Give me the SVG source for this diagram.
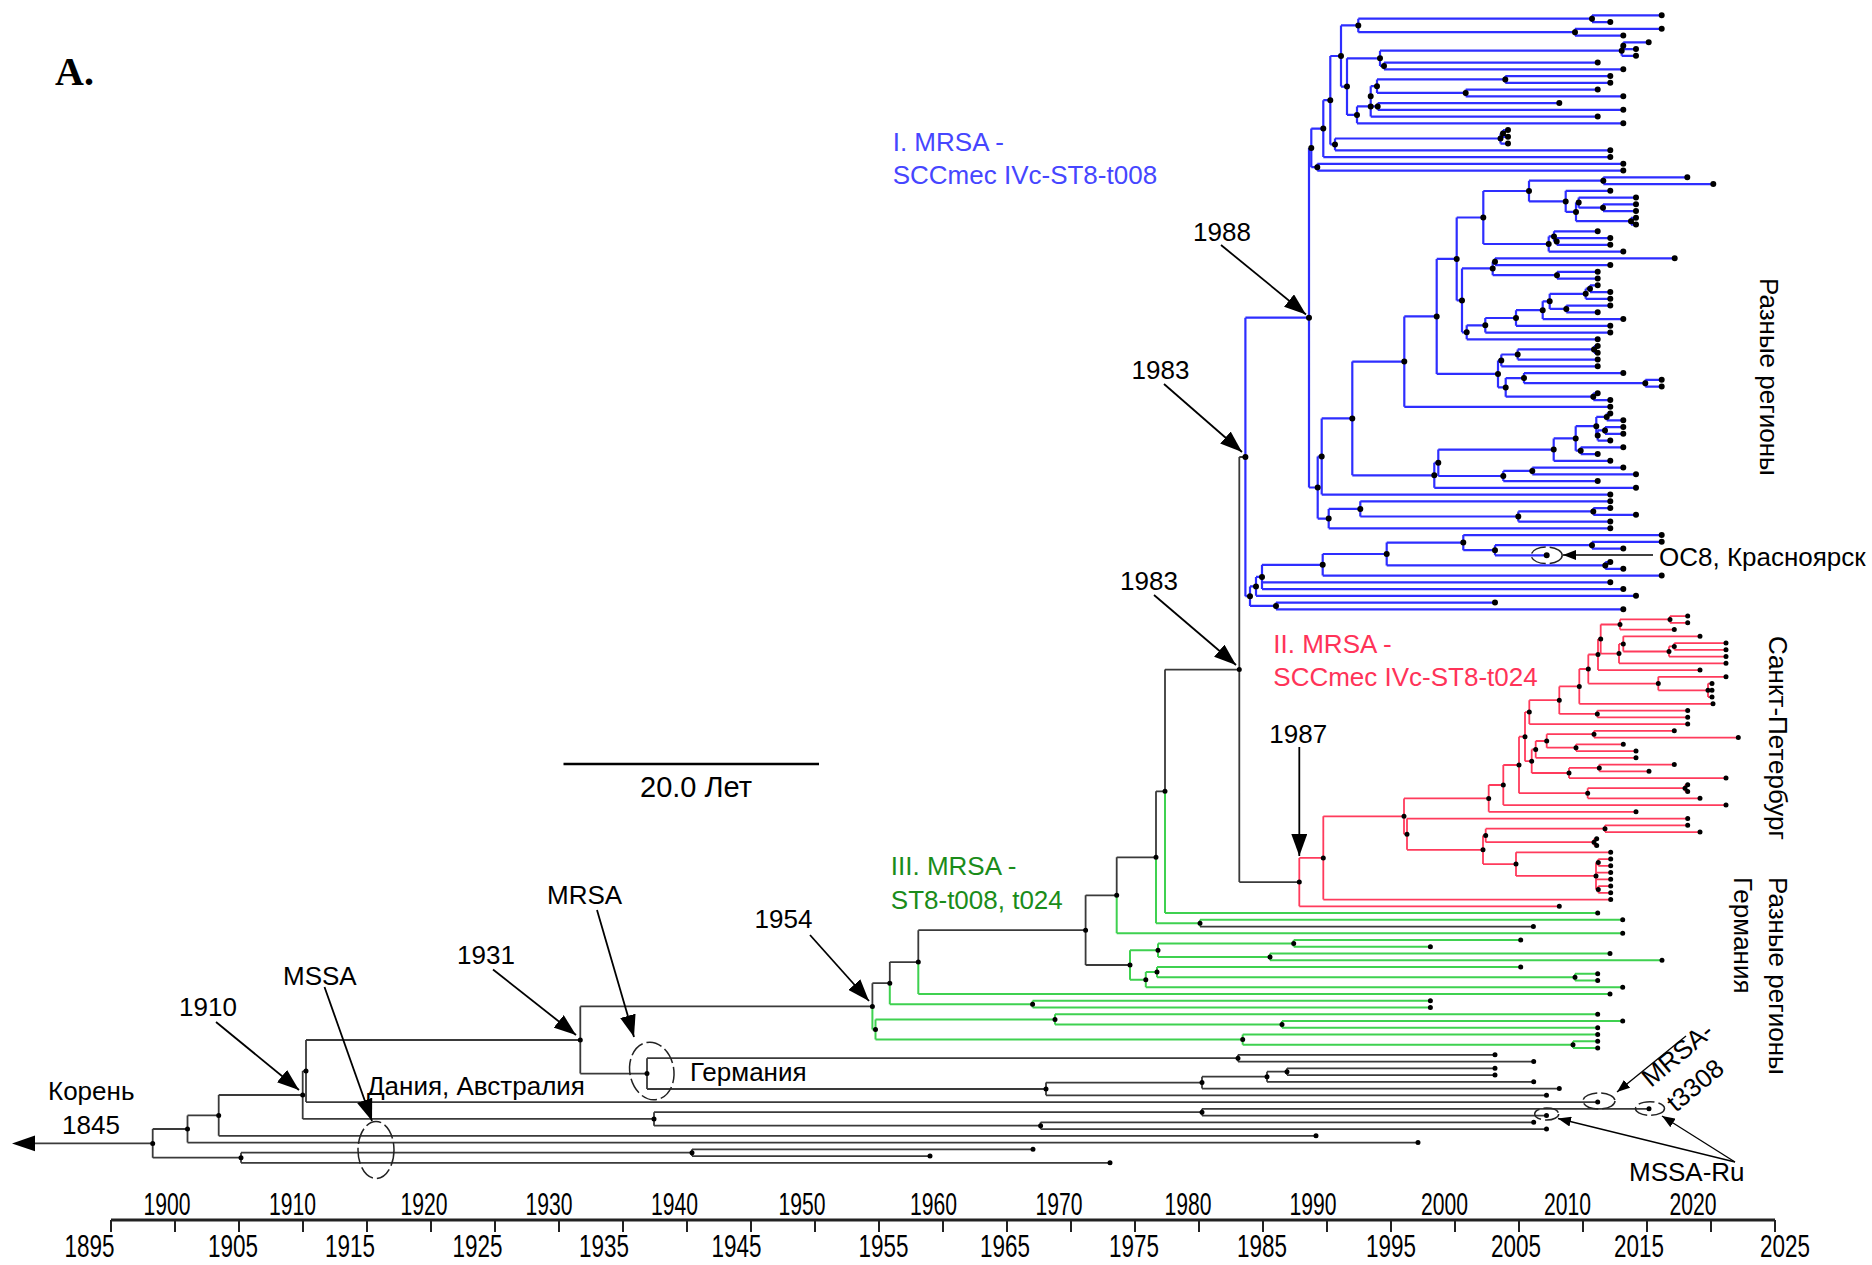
<svg xmlns="http://www.w3.org/2000/svg" width="1872" height="1265" viewBox="0 0 1872 1265">
<defs>
<style>
.b{stroke:#2e2eff;stroke-width:2.2;fill:none}
.r{stroke:#ff3b5c;stroke-width:1.8;fill:none}
.g{stroke:#3fd150;stroke-width:2;fill:none}
.k{stroke:#3a3a3a;stroke-width:1.8;fill:none}
.d{stroke:#000;stroke-linecap:round;fill:none}
.t{font-family:"Liberation Sans",Arial,sans-serif;font-size:26px;fill:#000}
.ax{font-family:"Liberation Sans",Arial,sans-serif;font-size:31px;fill:#000;text-anchor:middle}
.ar{stroke:#000;stroke-width:1.8;fill:none}
.as{stroke:#000;stroke-width:1.3;fill:none}
.el{stroke:#222;stroke-width:1.5;fill:none;stroke-dasharray:16 4}
</style>
<marker id="ab" markerUnits="userSpaceOnUse" markerWidth="24" markerHeight="16" refX="22" refY="8" orient="auto"><path d="M0 0L22 8L0 16z" fill="#000"/></marker>
<marker id="as" markerUnits="userSpaceOnUse" markerWidth="14" markerHeight="10" refX="13" refY="5" orient="auto"><path d="M0 0L13 5L0 10z" fill="#000"/></marker>
</defs>
<rect width="1872" height="1265" fill="#fff"/>
<g id="connectors">
<g id="blue-clade">
<path class="b" d="M1592 15.3H1661.7M1592 22.1H1610.3M1358.3 18.7H1592M1575 28.8H1661.7M1575 35.6H1623.3M1358.3 32.2H1575M1341 25.4H1358.3M1623.3 42.3H1648.7M1623.3 49.1H1636M1621.7 45.7H1623.3M1621.7 55.8H1636M1380 50.7H1621.7M1384 62.6H1597.7M1384 69.3H1623.3M1380 65.9H1384M1347 58.3H1380M1505.3 76.1H1610.3M1505.3 82.8H1610.3M1377 79.4H1505.3M1465.7 89.6H1597.7M1465.7 96.3H1623.3M1377 92.9H1465.7M1370.7 86.2H1377M1377.7 103.1H1559.3M1377.7 109.8H1623.3M1370.7 106.4H1377.7M1370.7 116.6H1597.7M1357 106.4H1370.7M1357 123.3H1623.3M1347 114.9H1357M1341 86.6H1347M1330.3 56H1341M1503 130.1H1508M1503 136.8H1508M1500.5 133.4H1503M1500.5 143.6H1508M1335 138.5H1500.5M1335 150.3H1610.3M1330.3 144.4H1335M1323.3 100.2H1330.3M1323.3 157.1H1610.3M1311.3 128.6H1323.3M1317.3 163.8H1623.3M1317.3 170.6H1623.3M1311.3 167.2H1317.3M1309 147.9H1311.3
M1592 15.3V22.1M1575 28.8V35.6M1358.3 18.7V32.2M1623.3 42.3V49.1M1621.7 45.7V55.8M1384 62.6V69.3M1380 50.7V65.9M1505.3 76.1V82.8M1465.7 89.6V96.3M1377 79.4V92.9M1377.7 103.1V109.8M1370.7 86.2V116.6M1357 106.4V123.3M1347 58.3V114.9M1341 25.4V86.6M1503 130.1V136.8M1500.5 133.4V143.6M1335 138.5V150.3M1330.3 56V144.4M1323.3 100.2V157.1M1317.3 163.8V170.6M1311.3 128.6V167.2
M1603.3 177.3H1687.3M1603.3 184.1H1713.3M1529 180.7H1603.3M1565.7 190.8H1610.3M1578.7 197.6H1636M1603 204.3H1636M1603 211.1H1636M1578.7 207.7H1603M1576 202.6H1578.7M1631 217.8H1636M1631 224.6H1636M1576 221.2H1631M1565.7 211.9H1576M1529 201.4H1565.7M1483.3 191H1529M1554 231.3H1597.7M1556.7 238.1H1610.3M1556.7 244.8H1610.3M1554 241.4H1556.7M1548.7 236.4H1554M1548.7 251.6H1623.3M1483.3 244H1548.7M1456.7 217.5H1483.3M1495 258.3H1674.7M1495 265.1H1610.3M1492.7 261.7H1495M1557 271.8H1597.7M1557 278.6H1597.7M1492.7 275.2H1557M1462 268.4H1492.7M1590 285.3H1597.7M1590 292.1H1610.3M1585.7 288.7H1590M1585.7 298.8H1610.3M1549.7 293.8H1585.7M1566.3 305.6H1610.3M1566.3 312.3H1597.7M1549.7 308.9H1566.3M1542.7 301.3H1549.7M1542.7 319.1H1623.3M1516 310.2H1542.7M1516 325.8H1610.3M1485.3 318H1516M1485.3 332.6H1610.3M1466.7 325.3H1485.3M1466.7 339.3H1597.7M1462 332.3H1466.7M1456.7 300.4H1462M1436.7 258.9H1456.7M1594 346.1H1597.7M1594 352.8H1597.7M1517.7 349.4H1594M1517.7 359.6H1597.7M1501.3 354.5H1517.7M1501.3 366.3H1597.7M1498 360.4H1501.3M1524 373.1H1623.3M1645.3 379.8H1661.7M1645.3 386.6H1661.7M1524 383.2H1645.3M1505.7 378.1H1524M1593.3 393.3H1597.7M1593.3 400.1H1610.3M1505.7 396.7H1593.3M1498 387.4H1505.7M1436.7 373.9H1498M1404.3 316.4H1436.7M1404.3 406.8H1610.3M1352.3 361.6H1404.3M1606.7 413.6H1610.3M1606.7 420.3H1623.3M1596.3 416.9H1606.7M1605 427.1H1623.3M1605 433.8H1623.3M1597.7 430.4H1605M1597.7 440.6H1610.3M1596.3 435.5H1597.7M1575.7 426.2H1596.3M1580.7 447.3H1623.3M1580.7 454.1H1597.7M1575.7 450.7H1580.7M1553.7 438.4H1575.7M1553.7 460.8H1610.3M1438.3 449.6H1553.7M1532.3 467.6H1623.3M1532.3 474.3H1636M1503.3 470.9H1532.3M1503.3 481.1H1597.7M1438.3 476H1503.3M1434.3 462.8H1438.3M1434.3 487.8H1636M1352.3 475.3H1434.3M1321.7 418.4H1352.3M1321.7 494.6H1610.3M1317.7 456.5H1321.7M1360.3 501.3H1610.3M1593.3 508.1H1610.3M1593.3 514.8H1636M1518.3 511.4H1593.3M1518.3 521.6H1610.3M1360.3 516.5H1518.3M1328.7 508.9H1360.3M1328.7 528.3H1610.3M1317.7 518.6H1328.7M1309 487.5H1317.7M1245.4 317.7H1309M1463.3 535.1H1661.7M1592 541.8H1661.7M1592 548.6H1623.3M1495 545.2H1592M1495 555.3H1546.7M1463.3 550.2H1495M1386.7 542.6H1463.3M1605.3 562.1H1610.3M1605.3 568.8H1623.3M1386.7 565.4H1605.3M1322.7 554H1386.7M1322.7 575.6H1661.7M1262 564.8H1322.7M1262 582.3H1610.3M1262 589.1H1623.3M1256 576.9H1262M1256 595.8H1636M1250 586.4H1256M1276 602.6H1495M1276 609.3H1623.3M1250 605.9H1276M1245.4 596.2H1250
M1603.3 177.3V184.1M1603 204.3V211.1M1578.7 197.6V207.7M1631 217.8V224.6M1576 202.6V221.2M1565.7 190.8V211.9M1529 180.7V201.4M1556.7 238.1V244.8M1554 231.3V241.4M1548.7 236.4V251.6M1483.3 191V244M1495 258.3V265.1M1557 271.8V278.6M1492.7 261.7V275.2M1590 285.3V292.1M1585.7 288.7V298.8M1566.3 305.6V312.3M1549.7 293.8V308.9M1542.7 301.3V319.1M1516 310.2V325.8M1485.3 318V332.6M1466.7 325.3V339.3M1462 268.4V332.3M1456.7 217.5V300.4M1594 346.1V352.8M1517.7 349.4V359.6M1501.3 354.5V366.3M1645.3 379.8V386.6M1524 373.1V383.2M1593.3 393.3V400.1M1505.7 378.1V396.7M1498 360.4V387.4M1436.7 258.9V373.9M1404.3 316.4V406.8M1606.7 413.6V420.3M1605 427.1V433.8M1597.7 430.4V440.6M1596.3 416.9V435.5M1580.7 447.3V454.1M1575.7 426.2V450.7M1553.7 438.4V460.8M1532.3 467.6V474.3M1503.3 470.9V481.1M1438.3 449.6V476M1434.3 462.8V487.8M1352.3 361.6V475.3M1321.7 418.4V494.6M1593.3 508.1V514.8M1518.3 511.4V521.6M1360.3 501.3V516.5M1328.7 508.9V528.3M1317.7 456.5V518.6M1309 147.9V487.5M1592 541.8V548.6M1495 545.2V555.3M1463.3 535.1V550.2M1605.3 562.1V568.8M1386.7 542.6V565.4M1322.7 554V575.6M1262 564.8V589.1M1256 576.9V595.8M1276 602.6V609.3M1250 586.4V605.9M1245.4 317.7V596.2"/>
</g>
<g id="red-clade">
<path class="r" d="M1670 616.1H1687.7M1670 622.8H1687.7M1620 619.4H1670M1620 629.6H1674.3M1600.7 624.5H1620M1623.3 636.3H1700M1674.3 643.1H1726M1674.3 649.8H1726M1669 646.4H1674.3M1669 656.6H1726M1623.3 651.5H1669M1619 643.9H1623.3M1619 663.3H1726M1600.7 653.6H1619M1598 639H1600.7M1598 670.1H1700M1588.3 654.5H1598M1658.3 676.8H1726M1708 683.6H1712M1708 690.3H1712M1708 697.1H1712M1658.3 690.3H1708M1588.3 683.6H1658.3M1579.3 669H1588.3M1579.3 703.8H1713M1559.3 686.4H1579.3M1597.3 710.6H1687.7M1597.3 717.3H1687.7M1559.3 713.9H1597.3M1529.3 700.2H1559.3M1529.3 724.1H1687.7M1525 712.1H1529.3M1594 730.8H1674.3M1594 737.6H1738.3M1546.7 734.2H1594M1576 744.3H1623.3M1576 751.1H1636M1546.7 747.7H1576M1535.7 741H1546.7M1535.7 757.8H1636M1531.7 749.4H1535.7M1599.3 764.6H1674.3M1599.3 771.3H1649M1569 767.9H1599.3M1569 778.1H1726M1531.7 773H1569M1525 761.2H1531.7M1519 736.7H1525M1685 784.8H1687.7M1685 791.6H1687.7M1587.7 788.2H1685M1587.7 798.3H1700M1519 793.2H1587.7M1503.3 765H1519M1503.3 805.1H1726M1488.7 785H1503.3M1488.7 811.8H1636M1404 798.4H1488.7M1407 818.6H1687.7M1605 825.3H1687.7M1605 832.1H1700M1485.7 828.7H1605M1594 838.8H1596.7M1594 845.6H1596.7M1485.7 842.2H1594M1483 835.4H1485.7M1516 852.3H1610.7M1598.3 859.1H1610.7M1598.3 865.8H1610.7M1596 862.4H1598.3M1596 872.6H1610.7M1596 879.3H1610.7M1598.3 886.1H1610.7M1598.3 892.8H1610.7M1596 889.4H1598.3M1516 875.9H1596M1483 864.1H1516M1407 849.8H1483M1404 834.2H1407M1323.3 816.3H1404M1323.3 899.6H1610.7M1299.3 857.9H1323.3M1299.3 906.3H1559.3
M1670 616.1V622.8M1620 619.4V629.6M1674.3 643.1V649.8M1669 646.4V656.6M1623.3 636.3V651.5M1619 643.9V663.3M1600.7 624.5V653.6M1598 639V670.1M1708 683.6V697.1M1658.3 676.8V690.3M1588.3 654.5V683.6M1579.3 669V703.8M1597.3 710.6V717.3M1559.3 686.4V713.9M1529.3 700.2V724.1M1594 730.8V737.6M1576 744.3V751.1M1546.7 734.2V747.7M1535.7 741V757.8M1599.3 764.6V771.3M1569 767.9V778.1M1531.7 749.4V773M1525 712.1V761.2M1685 784.8V791.6M1587.7 788.2V798.3M1519 736.7V793.2M1503.3 765V805.1M1488.7 785V811.8M1605 825.3V832.1M1594 838.8V845.6M1485.7 828.7V842.2M1598.3 859.1V865.8M1598.3 886.1V892.8M1596 862.4V889.4M1516 852.3V875.9M1483 835.4V864.1M1407 818.6V849.8M1404 798.4V834.2M1323.3 816.3V899.6M1299.3 857.9V906.3"/>
</g>
<g id="green-clade">
<path class="g" d="M1165 791.3V913.1M1165 913.1H1597.7M1156 857.3V923.2M1156 923.2H1200M1200 919.8V926.6M1200 919.8H1622.7M1116.7 895.3V933.3M1116.7 933.3H1622.7M1293.7 940.1H1520.7M1293.7 946.8H1430.4M1158 943.4H1293.7M1293.7 940.1V946.8M1270 953.6H1610M1270 960.3H1662M1158 956.9H1270M1270 953.6V960.3M1130 950.2H1158M1158 943.4V956.9M1157 967.1H1520.7M1575 973.8H1597.7M1575 980.6H1597.7M1157 977.2H1575M1575 973.8V980.6M1145.8 972.1H1157M1157 967.1V977.2M1145.8 987.3H1622.7M1130 979.7H1145.8M1145.8 972.1V987.3M1130 950.2V979.7M918.3 962.1V994.1M918.3 994.1H1610M889.8 983.2V1004.2M889.8 1004.2H1032.6M1032.6 1000.8V1007.6M1032.6 1000.8H1430.4M1032.6 1007.6H1430.4M872.4 1006.4V1029.5M872.4 1029.5H875.5M875.5 1019.4V1039.6M875.5 1019.4H1055M1055 1014.3V1024.4M1055 1014.3H1597.7M1055 1024.4H1282M1282 1021.1V1027.8M1282 1021.1H1622.7M1282 1027.8H1597.7M875.5 1039.6H1242.7M1242.7 1034.6V1044.7M1242.7 1034.6H1597.7M1242.7 1044.7H1573M1573 1041.3V1048.1M1573 1041.3H1597.7M1573 1048.1H1597.7"/>
</g>
<g id="backbone">
<path class="k" d="M1239.3 457V882.1M1239.3 457H1245.4M1239.3 882.1H1299.3M1165 669.6H1239.3M1165 669.6V791.3M1156 791.3H1165M1156 791.3V857.3M1116.7 857.3H1156M1116.7 857.3V895.3M1085.6 895.3H1116.7M1085.6 965H1130M1085.6 895.3V965M918.3 930.2H1085.6M918.3 930.2V962.1M889.8 962.1H918.3M889.8 962.1V983.2M872.4 983.2H889.8M872.4 983.2V1006.4M580.3 1006.4H872.4M1200 926.6H1533.4
M580.3 1006.4V1073.6M580.3 1073.6H647M647 1058.2V1089M647 1058.2H1238M1238 1054.8V1061.6M1238 1054.8H1495M1238 1061.6H1533.7M647 1089H1046M1046 1082.6V1095.3M1046 1082.6H1202M1202 1076.7V1088.6M1202 1076.7H1267M1267 1071.7V1081.8M1267 1071.7H1287M1287 1068.3V1075.1M1287 1068.3H1495M1287 1075.1H1495M1267 1081.8H1533.7M1202 1088.6H1559.3M1046 1095.3H1546.5M306 1040H580.3M306 1040V1102.1M306 1102.1H1597.7M302.7 1071.1H306M302.7 1118.9H654M654 1112.2V1125.7M654 1112.2H1202M1202 1108.8V1115.6M1202 1108.8H1649M1202 1115.6H1546.5M654 1125.7H1040.6M1040.6 1122.3V1129.1M1040.6 1122.3H1533.7M1040.6 1129.1H1546.5M302.7 1071.1V1118.9M218.7 1095H302.7M218.7 1095V1135.8M218.7 1135.8H1316M187.5 1115.4H218.7M187.5 1115.4V1142.6M187.5 1142.6H1418M152.7 1129H187.5M152.7 1129V1157.7M152.7 1157.7H241M241 1152.7V1162.8M241 1152.7H692M692 1149.3V1156.1M692 1149.3H1033M692 1156.1H930M241 1162.8H1110M152.7 1143.4H32"/>
<path d="M12 1143.4L35 1135.6L35 1151.2z" fill="#000"/>
</g>
<g id="node-dots">
<path class="d" stroke-width="6" d="M1661.7 15.3h0M1610.3 22.1h0M1661.7 28.8h0M1623.3 35.6h0M1648.7 42.3h0M1636 49.1h0M1636 55.8h0M1597.7 62.6h0M1623.3 69.3h0M1610.3 76.1h0M1610.3 82.8h0M1597.7 89.6h0M1623.3 96.3h0M1559.3 103.1h0M1623.3 109.8h0M1597.7 116.6h0M1623.3 123.3h0M1508 130.1h0M1508 136.8h0M1508 143.6h0M1610.3 150.3h0M1610.3 157.1h0M1623.3 163.8h0M1623.3 170.6h0M1687.3 177.3h0M1713.3 184.1h0M1610.3 190.8h0M1636 197.6h0M1636 204.3h0M1636 211.1h0M1636 217.8h0M1636 224.6h0M1597.7 231.3h0M1610.3 238.1h0M1610.3 244.8h0M1623.3 251.6h0M1674.7 258.3h0M1610.3 265.1h0M1597.7 271.8h0M1597.7 278.6h0M1597.7 285.3h0M1610.3 292.1h0M1610.3 298.8h0M1610.3 305.6h0M1597.7 312.3h0M1623.3 319.1h0M1610.3 325.8h0M1610.3 332.6h0M1597.7 339.3h0M1597.7 346.1h0M1597.7 352.8h0M1597.7 359.6h0M1597.7 366.3h0M1623.3 373.1h0M1661.7 379.8h0M1661.7 386.6h0M1597.7 393.3h0M1610.3 400.1h0M1610.3 406.8h0M1610.3 413.6h0M1623.3 420.3h0M1623.3 427.1h0M1623.3 433.8h0M1610.3 440.6h0M1623.3 447.3h0M1597.7 454.1h0M1610.3 460.8h0M1623.3 467.6h0M1636 474.3h0M1597.7 481.1h0M1636 487.8h0M1610.3 494.6h0M1610.3 501.3h0M1610.3 508.1h0M1636 514.8h0M1610.3 521.6h0M1610.3 528.3h0M1661.7 535.1h0M1661.7 541.8h0M1623.3 548.6h0M1546.7 555.3h0M1610.3 562.1h0M1623.3 568.8h0M1661.7 575.6h0M1610.3 582.3h0M1623.3 589.1h0M1636 595.8h0M1495 602.6h0M1623.3 609.3h0
M1592 18.7h0M1575 32.2h0M1358.3 25.4h0M1623.3 45.7h0M1621.7 50.7h0M1384 65.9h0M1380 58.3h0M1505.3 79.4h0M1465.7 92.9h0M1377 86.2h0M1377.7 106.4h0M1370.7 96.3h0M1370.7 106.4h0M1357 114.9h0M1347 86.6h0M1341 56h0M1503 133.4h0M1500.5 138.5h0M1335 144.4h0M1330.3 100.2h0M1323.3 128.6h0M1317.3 167.2h0M1311.3 147.9h0M1603.3 180.7h0M1603 207.7h0M1578.7 202.6h0M1631 221.2h0M1576 211.9h0M1565.7 201.4h0M1529 191h0M1556.7 241.4h0M1554 236.4h0M1548.7 244h0M1483.3 217.5h0M1495 261.7h0M1557 275.2h0M1492.7 268.4h0M1590 288.7h0M1585.7 293.8h0M1566.3 308.9h0M1549.7 301.3h0M1542.7 310.2h0M1516 318h0M1485.3 325.3h0M1466.7 332.3h0M1462 300.4h0M1456.7 258.9h0M1594 349.4h0M1517.7 354.5h0M1501.3 360.4h0M1645.3 383.2h0M1524 378.1h0M1593.3 396.7h0M1505.7 387.4h0M1498 373.9h0M1436.7 316.4h0M1404.3 361.6h0M1606.7 416.9h0M1605 430.4h0M1597.7 435.5h0M1596.3 426.2h0M1580.7 450.7h0M1575.7 438.4h0M1553.7 449.6h0M1532.3 470.9h0M1503.3 476h0M1438.3 462.8h0M1434.3 475.3h0M1352.3 418.4h0M1321.7 456.5h0M1593.3 511.4h0M1518.3 516.5h0M1360.3 508.9h0M1328.7 518.6h0M1317.7 487.5h0M1309 317.7h0M1592 545.2h0M1495 550.2h0M1463.3 542.6h0M1605.3 565.4h0M1386.7 554h0M1322.7 564.8h0M1262 576.9h0M1256 586.4h0M1276 605.9h0M1250 596.2h0M1245.4 457h0"/>
<path class="d" stroke-width="5" d="M1687.7 616.1h0M1687.7 622.8h0M1674.3 629.6h0M1700 636.3h0M1726 643.1h0M1726 649.8h0M1726 656.6h0M1726 663.3h0M1700 670.1h0M1726 676.8h0M1712 683.6h0M1712 690.3h0M1712 697.1h0M1713 703.8h0M1687.7 710.6h0M1687.7 717.3h0M1687.7 724.1h0M1674.3 730.8h0M1738.3 737.6h0M1623.3 744.3h0M1636 751.1h0M1636 757.8h0M1674.3 764.6h0M1649 771.3h0M1726 778.1h0M1687.7 784.8h0M1687.7 791.6h0M1700 798.3h0M1726 805.1h0M1636 811.8h0M1687.7 818.6h0M1687.7 825.3h0M1700 832.1h0M1596.7 838.8h0M1596.7 845.6h0M1610.7 852.3h0M1610.7 859.1h0M1610.7 865.8h0M1610.7 872.6h0M1610.7 879.3h0M1610.7 886.1h0M1610.7 892.8h0M1610.7 899.6h0M1559.3 906.3h0
M1670 619.4h0M1620 624.5h0M1674.3 646.4h0M1669 651.5h0M1623.3 643.9h0M1619 653.6h0M1600.7 639h0M1598 654.5h0M1708 690.3h0M1658.3 683.6h0M1588.3 669h0M1579.3 686.4h0M1597.3 713.9h0M1559.3 700.2h0M1529.3 712.1h0M1594 734.2h0M1576 747.7h0M1546.7 741h0M1535.7 749.4h0M1599.3 767.9h0M1569 773h0M1531.7 761.2h0M1525 736.7h0M1685 788.2h0M1587.7 793.2h0M1519 765h0M1503.3 785h0M1488.7 798.4h0M1605 828.7h0M1594 842.2h0M1485.7 835.4h0M1598.3 862.4h0M1598.3 889.4h0M1596 875.9h0M1516 864.1h0M1483 849.8h0M1407 834.2h0M1404 816.3h0M1323.3 857.9h0M1299.3 882.1h0
M1239.3 669.6h0M1165 791.3h0M1156 857.3h0M1200 923.2h0M1597.7 913.1h0M1622.7 919.8h0M1533.4 926.6h0M1116.7 895.3h0M1622.7 933.3h0M1085.6 930.2h0M1293.7 943.4h0M1520.7 940.1h0M1430.4 946.8h0M1270 956.9h0M1610 953.6h0M1662 960.3h0M1158 950.2h0M1157 972.1h0M1520.7 967.1h0M1575 977.2h0M1597.7 973.8h0M1597.7 980.6h0M1145.8 979.7h0M1622.7 987.3h0M1130 965h0M918.3 962.1h0M1610 994.1h0M889.8 983.2h0M1032.6 1004.2h0M1430.4 1000.8h0M1430.4 1007.6h0M872.4 1006.4h0M875.5 1029.5h0M1055 1019.4h0M1597.7 1014.3h0M1282 1024.4h0M1622.7 1021.1h0M1597.7 1027.8h0M1242.7 1039.6h0M1597.7 1034.6h0M1573 1044.7h0M1597.7 1041.3h0M1597.7 1048.1h0
M580.3 1040h0M647 1073.6h0M1238 1058.2h0M1495 1054.8h0M1533.7 1061.6h0M1046 1089h0M1202 1082.6h0M1267 1076.7h0M1287 1071.7h0M1495 1068.3h0M1495 1075.1h0M1533.7 1081.8h0M1559.3 1088.6h0M1546.5 1095.3h0M306 1071.1h0M1597.7 1102.1h0M654 1118.9h0M1202 1112.2h0M1649 1108.8h0M1546.5 1115.6h0M1040.6 1125.7h0M1533.7 1122.3h0M1546.5 1129.1h0M302.7 1095h0M218.7 1115.4h0M1316 1135.8h0M187.5 1129h0M1418 1142.6h0M152.7 1143.4h0M241 1157.7h0M692 1152.7h0M1033 1149.3h0M930 1156.1h0M1110 1162.8h0"/>
</g>
<g id="annotation-arrows">
<path class="ar" marker-end="url(#ab)" d="M1221 245L1306 314.5"/>
<path class="ar" marker-end="url(#ab)" d="M1164 384L1242 452"/>
<path class="ar" marker-end="url(#ab)" d="M1154 595L1236 665"/>
<path class="ar" marker-end="url(#ab)" d="M1299.3 747V856"/>
<path class="ar" marker-end="url(#ab)" d="M810 935L869 1001"/>
<path class="ar" marker-end="url(#ab)" d="M493 969.5L576 1035"/>
<path class="ar" marker-end="url(#ab)" d="M597 910L634 1037"/>
<path class="ar" marker-end="url(#ab)" d="M324.5 987L372 1121"/>
<path class="ar" marker-end="url(#ab)" d="M216 1022L299 1090"/>
<path class="as" marker-end="url(#as)" d="M1653 555H1563"/>
<path class="as" marker-end="url(#as)" d="M1686 1036L1617 1092"/>
<path class="as" marker-end="url(#as)" d="M1735 1162L1558 1118.5"/>
<path class="as" marker-end="url(#as)" d="M1735 1162L1662 1116"/>
</g>
</g>
<g id="highlight-ellipses">
<ellipse class="el" cx="1546.7" cy="555.3" rx="15.5" ry="8.3"/>
<ellipse class="el" cx="651.8" cy="1071" rx="22" ry="29" transform="rotate(-10 651.8 1071)"/>
<ellipse class="el" cx="376" cy="1150" rx="18" ry="28.5"/>
<ellipse class="el" cx="1599" cy="1101" rx="16" ry="8"/>
<ellipse class="el" cx="1650" cy="1108.5" rx="14.5" ry="6.8"/>
<ellipse class="el" cx="1546.7" cy="1114" rx="12" ry="6"/>
</g>
<g id="labels">
<text x="55" y="85" style="font-family:'Liberation Serif','Times New Roman',serif;font-size:40px;font-weight:bold">A.</text>
<g id="label-clade-I"><text x="892.7" y="150.5" class="t" style="fill:#4646ff">I. MRSA -</text><text x="892.7" y="183.7" class="t" style="fill:#4646ff">SCCmec IVc-ST8-t008</text></g>
<g id="label-clade-II"><text x="1273.3" y="652.7" class="t" style="fill:#ff3358">II. MRSA -</text><text x="1273.3" y="686" class="t" style="fill:#ff3358">SCCmec IVc-ST8-t024</text></g>
<g id="label-clade-III"><text x="890.8" y="875" class="t" style="fill:#1a8c1a">III. MRSA -</text><text x="890.8" y="908.5" class="t" style="fill:#1a8c1a">ST8-t008, t024</text></g>
<text x="1193" y="241" class="t">1988</text>
<text x="1131.5" y="379" class="t">1983</text>
<text x="1120" y="590" class="t">1983</text>
<text x="1269.3" y="743" class="t">1987</text>
<text x="754.5" y="928" class="t">1954</text>
<text x="457" y="964" class="t">1931</text>
<text x="547" y="904" class="t">MRSA</text>
<text x="283" y="985" class="t">MSSA</text>
<text x="179" y="1016" class="t">1910</text>
<text x="48" y="1100" class="t">Корень</text>
<text x="62" y="1134" class="t">1845</text>
<text x="367" y="1095" class="t">Дания, Австралия</text>
<text x="690" y="1081" class="t">Германия</text>
<text x="1659" y="565.5" class="t">OC8, Красноярск</text>
<text x="1629" y="1181" class="t">MSSA-Ru</text>
<text class="t" transform="translate(1651 1088) rotate(-40)">MRSA-</text>
<text class="t" transform="translate(1676 1113) rotate(-40)">t3308</text>
<text class="t" transform="translate(1760 278) rotate(90)">Разные регионы</text>
<text class="t" transform="translate(1769 636) rotate(90)">Санкт-Петербург</text>
<text class="t" transform="translate(1769 877) rotate(90)">Разные регионы</text>
<text class="t" transform="translate(1734 877) rotate(90)">Германия</text>
</g>
<g id="scale-bar">
<path d="M563.5 764H819" stroke="#000" stroke-width="2.5"/>
<text x="696" y="797" class="t" style="font-size:29px;text-anchor:middle">20.0 Лет</text>
</g>
<g id="time-axis">
<path d="M111 1220H1775" stroke="#222" stroke-width="3"/>
<path stroke="#222" stroke-width="2" d="M111 1220v12M175 1220v12M239 1220v12M303 1220v12M367 1220v12M431 1220v12M495 1220v12M559 1220v12M623 1220v12M687 1220v12M751 1220v12M815 1220v12M879 1220v12M943 1220v12M1007 1220v12M1071 1220v12M1135 1220v12M1199 1220v12M1263 1220v12M1327 1220v12M1391 1220v12M1455 1220v12M1519 1220v12M1583 1220v12M1647 1220v12M1711 1220v12M1775 1220v12"/>
<g class="ax">
<text x="167" y="1215" textLength="47" lengthAdjust="spacingAndGlyphs">1900</text>
<text x="292.5" y="1215" textLength="47" lengthAdjust="spacingAndGlyphs">1910</text>
<text x="424" y="1215" textLength="47" lengthAdjust="spacingAndGlyphs">1920</text>
<text x="549" y="1215" textLength="47" lengthAdjust="spacingAndGlyphs">1930</text>
<text x="674.6" y="1215" textLength="47" lengthAdjust="spacingAndGlyphs">1940</text>
<text x="802" y="1215" textLength="47" lengthAdjust="spacingAndGlyphs">1950</text>
<text x="933.6" y="1215" textLength="47" lengthAdjust="spacingAndGlyphs">1960</text>
<text x="1059" y="1215" textLength="47" lengthAdjust="spacingAndGlyphs">1970</text>
<text x="1188" y="1215" textLength="47" lengthAdjust="spacingAndGlyphs">1980</text>
<text x="1313" y="1215" textLength="47" lengthAdjust="spacingAndGlyphs">1990</text>
<text x="1444.6" y="1215" textLength="47" lengthAdjust="spacingAndGlyphs">2000</text>
<text x="1567.6" y="1215" textLength="47" lengthAdjust="spacingAndGlyphs">2010</text>
<text x="1693" y="1215" textLength="47" lengthAdjust="spacingAndGlyphs">2020</text>
<text x="89.5" y="1257" textLength="50" lengthAdjust="spacingAndGlyphs">1895</text>
<text x="233" y="1257" textLength="50" lengthAdjust="spacingAndGlyphs">1905</text>
<text x="350" y="1257" textLength="50" lengthAdjust="spacingAndGlyphs">1915</text>
<text x="477.6" y="1257" textLength="50" lengthAdjust="spacingAndGlyphs">1925</text>
<text x="604" y="1257" textLength="50" lengthAdjust="spacingAndGlyphs">1935</text>
<text x="736.6" y="1257" textLength="50" lengthAdjust="spacingAndGlyphs">1945</text>
<text x="883.5" y="1257" textLength="50" lengthAdjust="spacingAndGlyphs">1955</text>
<text x="1005" y="1257" textLength="50" lengthAdjust="spacingAndGlyphs">1965</text>
<text x="1134" y="1257" textLength="50" lengthAdjust="spacingAndGlyphs">1975</text>
<text x="1262" y="1257" textLength="50" lengthAdjust="spacingAndGlyphs">1985</text>
<text x="1391" y="1257" textLength="50" lengthAdjust="spacingAndGlyphs">1995</text>
<text x="1516" y="1257" textLength="50" lengthAdjust="spacingAndGlyphs">2005</text>
<text x="1639" y="1257" textLength="50" lengthAdjust="spacingAndGlyphs">2015</text>
<text x="1785" y="1257" textLength="50" lengthAdjust="spacingAndGlyphs">2025</text>
</g>
</g>
</svg>
